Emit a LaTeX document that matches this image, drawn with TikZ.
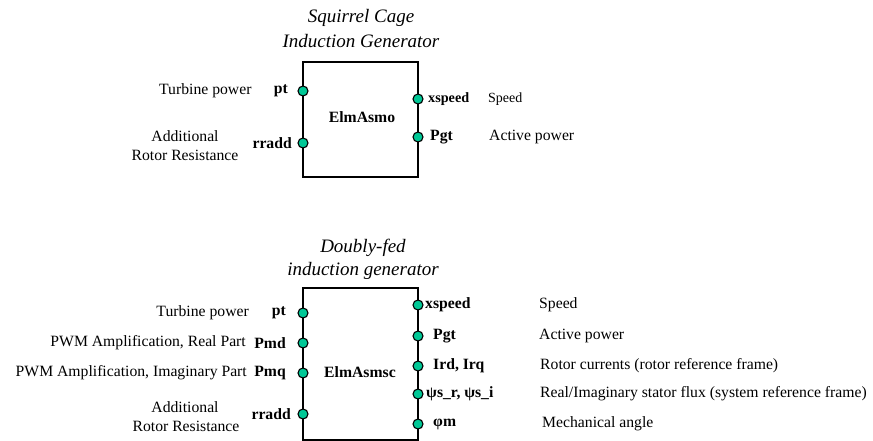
\documentclass[tikz,border=0pt]{standalone}
\usepackage{fontspec}
\setmainfont{Liberation Serif}
\definecolor{portgreen}{RGB}{0,200,150}
\tikzset{
  blk/.style={draw,line width=1.5pt},
  port/.style={circle,draw,line width=1.1pt,fill=portgreen,minimum size=10pt,inner sep=0pt},
  title/.style={font=\fontsize{19}{22}\selectfont\itshape,align=center,inner sep=0pt},
  desc/.style={font=\fontsize{15.7}{19}\selectfont,inner sep=0pt},
  sdesc/.style={font=\fontsize{14}{17}\selectfont,inner sep=0pt},
  sig/.style={font=\fontsize{15.7}{19}\selectfont\bfseries,inner sep=0pt},
  ssig/.style={font=\fontsize{14.2}{17}\selectfont\bfseries,inner sep=0pt},
}
\begin{document}
\begin{tikzpicture}[x=1pt,y=-1pt]
\useasboundingbox (0,0) rectangle (873,441);
% ---------- top block ----------
\node[title] (t1a) at (361,18) {Squirrel Cage};
\node[title] (t1b) at (361,41) {Induction Generator};
\draw[blk] (303,62) rectangle (418,177);
\node[sig] (elm1) at (362,117) {ElmAsmo};
\node[port] (p1pt) at (303,91) {};
\node[port] (p1rr) at (303,143) {};
\node[port] (p1xs) at (418,99) {};
\node[port] (p1pg) at (418,137) {};
\node[sig,anchor=east] (l1pt) at (288,91) {pt};
\node[desc,anchor=west] (d1pt) at (159,91) {Turbine power};
\node[sig,anchor=east] (l1rr) at (292,143) {rradd};
\node[desc] (d1rra) at (185,136) {Additional};
\node[desc] (d1rrb) at (185,155) {Rotor Resistance};
\node[ssig,anchor=west] (l1xs) at (428,99) {xspeed};
\node[sdesc,anchor=west] (d1xs) at (488,99) {Speed};
\node[sig,anchor=west] (l1pg) at (430,137) {Pgt};
\node[desc,anchor=west] (d1pg) at (489,137) {Active power};
% ---------- bottom block ----------
\node[title] (t2a) at (363,248) {Doubly-fed};
\node[title] (t2b) at (363,271) {induction generator};
\draw[blk] (303,288) rectangle (418,440);
\node[sig] (elm2) at (360,372) {ElmAsmsc};
\node[port] (p2pt) at (303,313) {};
\node[port] (p2md) at (303,343) {};
\node[port] (p2mq) at (303,373) {};
\node[port] (p2rr) at (303,414) {};
\node[port] (p2xs) at (418,305) {};
\node[port] (p2pg) at (418,336) {};
\node[port] (p2ir) at (418,366) {};
\node[port] (p2ps) at (418,394) {};
\node[port] (p2pm) at (418,424) {};
\node[sig,anchor=east] (l2pt) at (286,313) {pt};
\node[desc,anchor=east] (d2pt) at (249,313) {Turbine power};
\node[sig,anchor=east] (l2md) at (286,343) {Pmd};
\node[desc,anchor=east] (d2md) at (246,343) {PWM Amplification, Real Part};
\node[sig,anchor=east] (l2mq) at (286,373) {Pmq};
\node[desc,anchor=east] (d2mq) at (247,373) {PWM Amplification, Imaginary Part};
\node[sig,anchor=east] (l2rr) at (291,414) {rradd};
\node[desc] (d2rra) at (185,407) {Additional};
\node[desc] (d2rrb) at (186,426) {Rotor Resistance};
\node[sig,anchor=west] (l2xs) at (425,305) {xspeed};
\node[desc,anchor=west] (d2xs) at (539,305) {Speed};
\node[sig,anchor=west] (l2pg) at (433,336) {Pgt};
\node[desc,anchor=west] (d2pg) at (539,336) {Active power};
\node[sig,anchor=west] (l2ir) at (433,366) {Ird, Irq};
\node[desc,anchor=west] (d2ir) at (540,366) {Rotor currents (rotor reference frame)};
\node[sig,anchor=west] (l2ps) at (426,394) {ψs\_r, ψs\_i};
\node[desc,anchor=west] (d2ps) at (540,394) {Real/Imaginary stator flux (system reference frame)};
\node[sig,anchor=west] (l2pm) at (433,424) {φm};
\node[desc,anchor=west] (d2pm) at (542,424) {Mechanical angle};
\end{tikzpicture}
\end{document}
